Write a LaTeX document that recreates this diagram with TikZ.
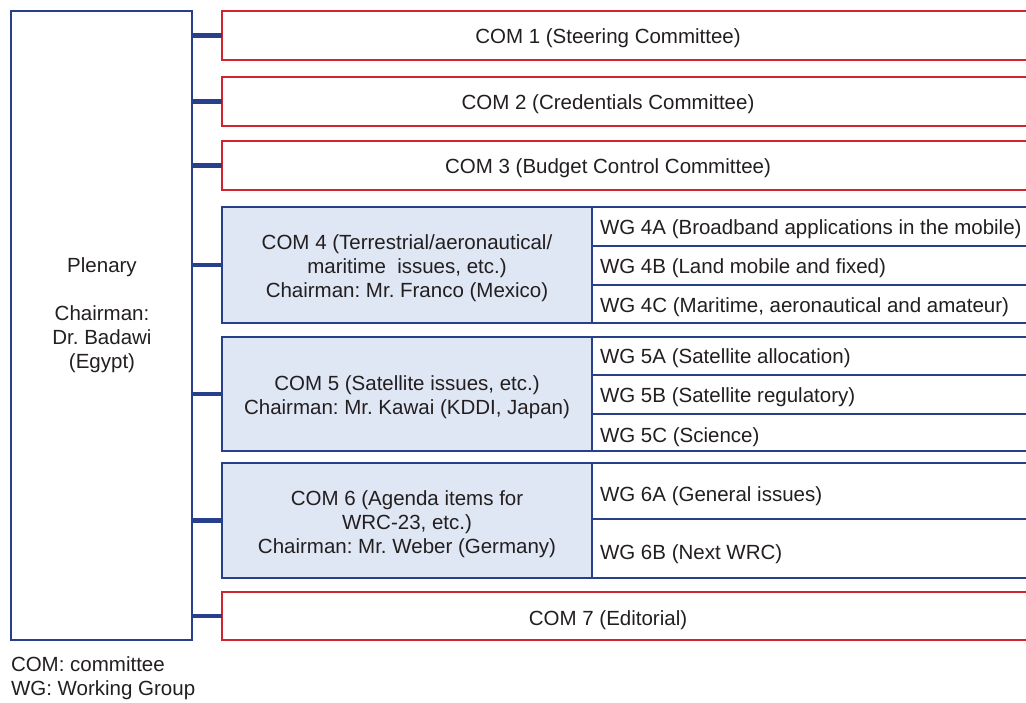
\documentclass[tikz,border=0pt]{standalone}
\usepackage{fontspec}
\setmainfont{Liberation Sans}
\frenchspacing
\definecolor{ituBlue}{HTML}{27408B}
\definecolor{ituRed}{HTML}{D2232E}
\definecolor{ituFill}{HTML}{DFE6F4}
\definecolor{ituText}{HTML}{231F20}
\begin{document}
\begin{tikzpicture}[x=1pt,y=-1pt,
  every node/.style={font=\fontsize{20.5}{24}\selectfont, text=ituText, inner sep=0pt, outer sep=0pt},
  plenbox/.style={draw=ituBlue, line width=2.8pt, rectangle, anchor=north west},
  combox/.style={draw=ituRed, line width=2.8pt, fill=white, rectangle, anchor=north west},
  subbox/.style={draw=ituBlue, line width=2.8pt, fill=ituFill, rectangle, anchor=north west},
  wgbox/.style={draw=ituBlue, line width=2.8pt, fill=white, rectangle, anchor=north west},
  wgtext/.style={anchor=west},
  link/.style={draw=ituBlue, line width=4.2pt}]
\useasboundingbox (0,0) rectangle (1026,702);
% Plenary
\node[plenbox, minimum width=181pt, minimum height=629pt] (pl) at (11,11) {};
\node[align=center] (plt) at (102,315) {Plenary\\[24pt]Chairman:\\Dr. Badawi\\(Egypt)};
% COM 1-3
\node[combox, minimum width=830pt, minimum height=49pt] (c1) at (222,11) {};
\node (c1t) at (608,38) {COM 1 (Steering Committee)};
\node[combox, minimum width=830pt, minimum height=49pt] (c2) at (222,77) {};
\node (c2t) at (608,104) {COM 2 (Credentials Committee)};
\node[combox, minimum width=830pt, minimum height=49pt] (c3) at (222,141) {};
\node (c3t) at (608,168) {COM 3 (Budget Control Committee)};
% COM 4
\node[wgbox, minimum width=458pt, minimum height=39pt] (w4a) at (592,207) {};
\node[wgtext] at (600,229) {WG 4A (Broadband applications in the mobile)};
\node[wgbox, minimum width=458pt, minimum height=39pt] (w4b) at (592,246) {};
\node[wgtext] at (600,268) {WG 4B (Land mobile and fixed)};
\node[wgbox, minimum width=458pt, minimum height=38pt] (w4c) at (592,285) {};
\node[wgtext] at (600,307) {WG 4C (Maritime, aeronautical and amateur)};
\node[subbox, minimum width=370pt, minimum height=116pt] (c4) at (222,207) {};
\node[align=center] (c4t) at (407,268) {COM 4 (Terrestrial/aeronautical/\\maritime\ \ issues, etc.)\\Chairman: Mr. Franco (Mexico)};
% COM 5
\node[wgbox, minimum width=458pt, minimum height=38pt] (w5a) at (592,337) {};
\node[wgtext] at (600,358) {WG 5A (Satellite allocation)};
\node[wgbox, minimum width=458pt, minimum height=39pt] (w5b) at (592,375) {};
\node[wgtext] at (600,397) {WG 5B (Satellite regulatory)};
\node[wgbox, minimum width=458pt, minimum height=37pt] (w5c) at (592,414) {};
\node[wgtext] at (600,437) {WG 5C (Science)};
\node[subbox, minimum width=370pt, minimum height=114pt] (c5) at (222,337) {};
\node[align=center] (c5t) at (407,397) {COM 5 (Satellite issues, etc.)\\Chairman: Mr. Kawai (KDDI, Japan)};
% COM 6
\node[wgbox, minimum width=458pt, minimum height=56pt] (w6a) at (592,463) {};
\node[wgtext] at (600,496) {WG 6A (General issues)};
\node[wgbox, minimum width=458pt, minimum height=59pt] (w6b) at (592,519) {};
\node[wgtext] at (600,554) {WG 6B (Next WRC)};
\node[subbox, minimum width=370pt, minimum height=115pt] (c6) at (222,463) {};
\node[align=center] (c6t) at (407,524) {COM 6 (Agenda items for\\WRC-23, etc.)\\Chairman: Mr. Weber (Germany)};
% COM 7
\node[combox, minimum width=830pt, minimum height=48pt] (c7) at (222,592) {};
\node (c7t) at (608,620) {COM 7 (Editorial)};
% connectors
\foreach \c in {c1,c2,c3,c4,c5,c6,c7}
  \draw[link] (pl.east |- \c.west) -- (\c.west);
% legend
\node[anchor=north west, align=left] (leg) at (11,657) {COM: committee\\WG: Working Group};
\end{tikzpicture}
\end{document}
